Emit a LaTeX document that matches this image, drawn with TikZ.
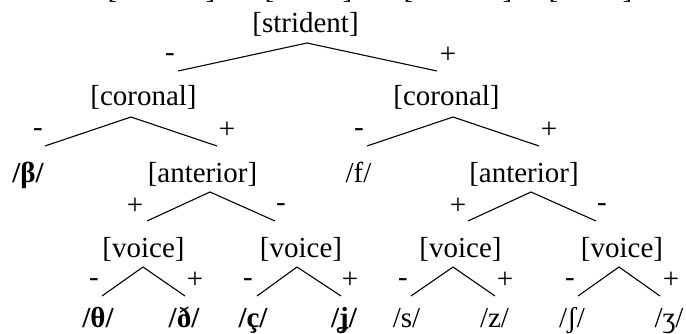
\documentclass[tikz,border=0pt]{standalone}
\usepackage{fontspec}
\setmainfont{Liberation Serif}

\begin{document}
\begin{tikzpicture}[x=1pt,y=-1pt,line width=1.1pt,
	feat/.style={anchor=base,inner sep=0pt,font=\fontsize{29}{34}\selectfont},
	seg/.style={feat,font=\fontsize{29}{34}\selectfont\bfseries},
	sign/.style={inner sep=0pt,font=\fontsize{29}{34}\selectfont}]
	
	\useasboundingbox (0,0) rectangle (686,334);
	
	% row cut off at the top
	\node[feat] (top1) at (161.5,-1.7) {[\hspace{88.3pt}]};
	\node[feat] (top2) at (308.5,-1.7) {[\hspace{68.3pt}]};
	\node[feat] (top3) at (458,-1.7) {[\hspace{89.3pt}]};
	\node[feat] (top4) at (590.5,-1.7) {[\hspace{64.3pt}]};
	
	% features
	\node[feat] (strident) at (305.5,32.5) {[strident]};
	\node[feat] (coronalL) at (143.5,105.5) {[coronal]};
	\node[feat] (coronalR) at (446.5,105.5) {[coronal]};
	\node[feat] (anteriorL) at (202.5,182.5) {[anterior]};
	\node[feat] (anteriorR) at (524,182.5) {[anterior]};
	\node[feat] (voice1) at (143.5,258) {[voice]};
	\node[feat] (voice2) at (301,258) {[voice]};
	\node[feat] (voice3) at (460.5,258) {[voice]};
	\node[feat] (voice4) at (622,258) {[voice]};
	
	% segments
	\node[seg] (beta) at (28,182.5) {/β/};
	\node[feat] (f) at (358.5,182.5) {/f/};
	\node[seg] (theta) at (98,327) {/θ/};
	\node[seg] (eth) at (184,327) {/ð/};
	\node[seg] (ccedil) at (253,327) {/ç/};
	\node[seg] (jcurl) at (344,327) {/ʝ/};
	\node[feat] (s) at (406.5,327) {/s/};
	\node[feat] (z) at (494.5,327) {/z/};
	\node[feat] (esh) at (572,327) {/ʃ/};
	\node[feat] (ezh) at (669,327) {/ʒ/};
	
	% branch points
	\coordinate (strident-top) at (307,43);
	\coordinate (strident-l) at (178,71);
	\coordinate (strident-r) at (437,71);
	\coordinate (coronalL-top) at (131,117);
	\coordinate (coronalL-l) at (45,146);
	\coordinate (coronalL-r) at (217,146);
	\coordinate (coronalR-top) at (453,117);
	\coordinate (coronalR-l) at (367,146);
	\coordinate (coronalR-r) at (539,146);
	\coordinate (anteriorL-top) at (210,192);
	\coordinate (anteriorL-l) at (147,221);
	\coordinate (anteriorL-r) at (275,221);
	\coordinate (anteriorR-top) at (531,192);
	\coordinate (anteriorR-l) at (468,221);
	\coordinate (anteriorR-r) at (596,221);
	\coordinate (voice1-top) at (143,267);
	\coordinate (voice1-l) at (102,296);
	\coordinate (voice1-r) at (185,296);
	\coordinate (voice2-top) at (297,267);
	\coordinate (voice2-l) at (257,296);
	\coordinate (voice2-r) at (341,296);
	\coordinate (voice3-top) at (453,267);
	\coordinate (voice3-l) at (411,296);
	\coordinate (voice3-r) at (495,296);
	\coordinate (voice4-top) at (619,267);
	\coordinate (voice4-l) at (578,296);
	\coordinate (voice4-r) at (660,296);
	
	\draw (strident-l) -- (strident-top) -- (strident-r);
	\draw (coronalL-l) -- (coronalL-top) -- (coronalL-r);
	\draw (coronalR-l) -- (coronalR-top) -- (coronalR-r);
	\draw (anteriorL-l) -- (anteriorL-top) -- (anteriorL-r);
	\draw (anteriorR-l) -- (anteriorR-top) -- (anteriorR-r);
	\draw (voice1-l) -- (voice1-top) -- (voice1-r);
	\draw (voice2-l) -- (voice2-top) -- (voice2-r);
	\draw (voice3-l) -- (voice3-top) -- (voice3-r);
	\draw (voice4-l) -- (voice4-top) -- (voice4-r);
	
	% values
	\node[sign] (m1) at (170,58) {-};
	\node[sign] (p1) at (448,55) {+};
	\node[sign] (m2) at (38,133) {-};
	\node[sign] (p2) at (227,130) {+};
	\node[sign] (m3) at (359,133) {-};
	\node[sign] (p3) at (549,130) {+};
	\node[sign] (p4) at (135,206) {+};
	\node[sign] (m4) at (281,208) {-};
	\node[sign] (p5) at (458,206) {+};
	\node[sign] (m5) at (602,208) {-};
	\node[sign] (m6) at (94,283) {-};
	\node[sign] (p6) at (195,280) {+};
	\node[sign] (m7) at (248,283) {-};
	\node[sign] (p7) at (350,280) {+};
	\node[sign] (m8) at (403,283) {-};
	\node[sign] (p8) at (505,280) {+};
	\node[sign] (m9) at (570,283) {-};
	\node[sign] (p9) at (671,280) {+};
\end{tikzpicture}
\end{document}
